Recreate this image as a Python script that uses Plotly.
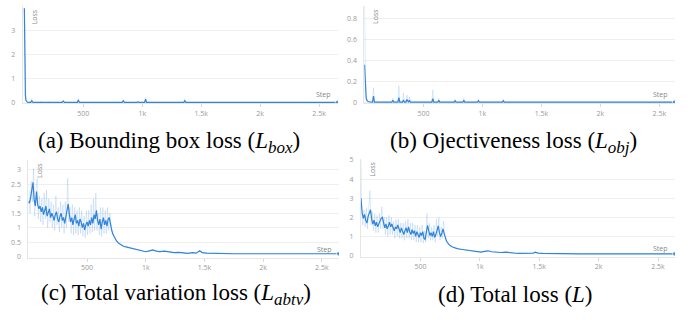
import plotly.graph_objects as go

# ---------------- data ----------------
x_tickvals = [500, 1000, 1500, 2000, 2500]
x_ticktext = ["500", "1k", "1.5k", "2k", "2.5k"]

# (a) bounding box loss
a_steps = [0, 2, 4, 6, 9, 13, 18, 25, 40, 55, 63, 70, 80, 130, 139, 148, 200, 205, 215, 320,
           330, 340, 450, 458, 466, 600, 830, 839, 848, 955, 963, 971, 1020, 1028, 1036, 1353,
           1361, 1369, 1600, 2000, 2658]
a_smooth = [3.9, 2.6, 1.4, 0.7, 0.3, 0.1, 0.03, 0.01, 0.005, 0.005, 0.08, 0.01, 0.004, 0.004,
            0.03, 0.004, 0.004, 0.02, 0.004, 0.004, 0.06, 0.004, 0.004, 0.1, 0.004, 0.003, 0.003,
            0.07, 0.003, 0.003, 0.03, 0.003, 0.003, 0.14, 0.003, 0.003, 0.07, 0.003, 0.002, 0.002,
            0.002]
a_raw = [3.9, 2.8, 1.6, 0.8, 0.35, 0.12, 0.04, 0.01, 0.005, 0.005, 0.16, 0.01, 0.004, 0.004,
         0.05, 0.004, 0.004, 0.04, 0.004, 0.004, 0.1, 0.004, 0.004, 0.16, 0.004, 0.003, 0.003,
         0.12, 0.003, 0.003, 0.05, 0.003, 0.003, 0.2, 0.003, 0.003, 0.12, 0.003, 0.002, 0.002,
         0.002]

# (b) objectiveness loss
b_steps = [0, 2, 4, 7, 10, 14, 20, 30, 50, 68, 76, 84, 232, 240, 248, 283, 291, 299, 322, 330,
           338, 351, 359, 367, 373, 381, 389, 571, 579, 587, 622, 630, 638, 760, 768, 776, 834,
           842, 850, 958, 966, 974, 1169, 1177, 1185, 1400, 2000, 2633]
b_smooth = [0.36, 0.3, 0.22, 0.14, 0.08, 0.04, 0.02, 0.008, 0.004, 0.003,
            0.06, 0.003, 0.002, 0.02, 0.002, 0.002, 0.045, 0.002, 0.002, 0.022,
            0.002, 0.002, 0.028, 0.002, 0.002, 0.02, 0.002, 0.002, 0.035, 0.002,
            0.002, 0.02, 0.002, 0.002, 0.015, 0.002, 0.002, 0.02, 0.002, 0.002,
            0.015, 0.002, 0.002, 0.015, 0.002, 0.002, 0.002, 0.002]
b_raw = [0.92, 0.6, 0.35, 0.2, 0.1, 0.05, 0.025, 0.01, 0.005, 0.003,
         0.14, 0.003, 0.002, 0.04, 0.002, 0.002, 0.16, 0.002, 0.002, 0.09,
         0.002, 0.002, 0.07, 0.002, 0.002, 0.05, 0.002, 0.002, 0.12, 0.002,
         0.002, 0.04, 0.002, 0.002, 0.03, 0.002, 0.002, 0.04, 0.002, 0.002,
         0.03, 0.002, 0.002, 0.03, 0.002, 0.002, 0.002, 0.002]

# (c) total variation loss
c_head_steps = list(range(0, 701, 10))
c_head_smooth = [1.90, 1.85, 2.05, 2.35, 2.57, 1.95, 1.75, 2.25, 1.80, 1.65, 1.75,
                 1.55, 1.70, 1.45, 1.60, 1.75, 1.40, 1.55, 1.65, 1.35, 1.50,
                 1.40, 1.25, 1.45, 1.55, 1.30, 1.20, 1.40, 1.50, 1.25, 1.35,
                 1.15, 1.40, 1.55, 1.82, 1.45, 1.20, 1.35, 1.10, 1.30, 1.45,
                 1.15, 1.25, 1.05, 1.30, 1.20, 1.00, 1.15, 0.92, 1.10, 1.20,
                 1.05, 1.25, 1.10, 1.35, 1.15, 1.45, 1.30, 1.60, 1.25, 1.10,
                 1.30, 0.95, 1.20, 1.35, 1.10, 1.25, 1.05, 1.30, 1.35, 1.10]
c_raw_steps = list(range(5, 700, 10))
c_raw_head = [2.3, 1.5, 2.6, 1.9, 3.05, 1.4, 2.2, 2.7, 1.3, 2.1,
              1.2, 2.0, 1.1, 2.2, 1.3, 2.3, 1.0, 2.0, 1.2, 1.9,
              1.0, 1.8, 0.9, 2.1, 1.1, 1.7, 0.85, 1.9, 1.0, 1.8,
              0.8, 1.9, 1.0, 2.7, 1.2, 1.7, 0.8, 1.8, 0.75, 1.7,
              0.8, 1.6, 0.75, 1.7, 0.8, 1.6, 0.7, 1.4, 0.65, 1.6,
              0.75, 1.6, 0.8, 1.8, 0.85, 2.0, 0.9, 2.2, 0.9, 1.5,
              0.75, 1.7, 0.7, 1.7, 0.8, 1.6, 0.8, 1.7, 0.9, 1.5]
c_tail_steps = [710, 720, 735, 750, 770, 790, 810, 840, 870, 900, 930, 960, 1000, 1030, 1060,
                1090, 1120, 1160, 1200, 1240, 1280, 1320, 1360, 1400, 1430, 1460, 1480, 1520,
                1580, 1650, 1750, 1900, 2100, 2300, 2500, 2646]
c_tail = [0.92, 0.78, 0.66, 0.55, 0.46, 0.40, 0.36, 0.33, 0.30, 0.28, 0.25, 0.22, 0.17, 0.20,
          0.23, 0.19, 0.17, 0.19, 0.16, 0.14, 0.15, 0.12, 0.11, 0.14, 0.12, 0.20, 0.14, 0.12,
          0.11, 0.10, 0.10, 0.10, 0.10, 0.10, 0.10, 0.10]

# (d) total loss
d_head_steps = list(range(0, 701, 10))
d_head_smooth = [3.00, 2.20, 1.95, 2.15, 1.85, 1.70, 2.05, 2.20, 2.40, 1.90, 1.65,
                 1.85, 1.55, 1.75, 1.50, 1.65, 1.85, 1.95, 2.00, 1.60, 1.45,
                 1.65, 1.40, 1.55, 1.75, 1.50, 1.65, 1.45, 1.30, 1.50, 1.40,
                 1.60, 1.35, 1.20, 1.45, 1.30, 1.10, 1.30, 1.45, 1.20, 1.50,
                 1.25, 1.10, 1.35, 1.15, 1.30, 1.00, 1.25, 1.10, 0.95, 1.20,
                 1.05, 1.25, 0.90, 0.85, 1.20, 1.58, 1.30, 1.05, 1.20, 1.00,
                 1.25, 0.95, 1.10, 1.35, 1.55, 1.20, 1.00, 1.15, 1.40, 1.15]
d_raw_steps = [0] + list(range(5, 700, 10))
d_raw_head = [5.0,
              2.6, 1.6, 2.4, 1.5, 2.5, 1.4, 2.6, 3.4, 1.6, 2.3,
              1.3, 2.2, 1.2, 2.1, 1.2, 2.2, 1.4, 2.55, 1.4, 2.0,
              1.1, 2.0, 1.0, 2.1, 1.1, 2.0, 1.1, 1.8, 0.9, 1.9,
              1.0, 1.9, 0.9, 1.7, 0.9, 1.7, 0.8, 1.8, 0.9, 1.9,
              0.9, 1.7, 0.8, 1.7, 0.8, 1.6, 0.7, 1.6, 0.7, 1.5,
              0.7, 1.6, 0.65, 1.3, 0.7, 2.2, 0.9, 1.7, 0.8, 1.5,
              0.8, 1.6, 0.7, 1.9, 1.0, 2.0, 0.8, 1.5, 0.9, 1.8]
d_tail_steps = [710, 720, 735, 750, 770, 790, 810, 840, 870, 900, 940, 980, 1010, 1040, 1070,
                1100, 1140, 1180, 1220, 1260, 1300, 1340, 1380, 1420, 1450, 1465, 1490, 1530,
                1600, 1700, 1850, 2000, 2200, 2400, 2643]
d_tail = [0.90, 0.75, 0.62, 0.52, 0.45, 0.40, 0.36, 0.33, 0.30, 0.27, 0.23, 0.19, 0.18, 0.22,
          0.25, 0.20, 0.17, 0.16, 0.18, 0.14, 0.12, 0.11, 0.12, 0.13, 0.12, 0.18, 0.13, 0.11,
          0.10, 0.09, 0.09, 0.09, 0.09, 0.09, 0.09]

y_ticks_a = [0, 1, 2, 3]
y_ticks_b = [0, 0.2, 0.4, 0.6, 0.8]
y_ticks_c = [0, 0.5, 1, 1.5, 2, 2.5, 3]
y_ticks_d = [0, 1, 2, 3, 4, 5]

SUB = '<sub><span style="font-size:17px"><i>%s</i></span></sub>'
captions = [
    "(a) Bounding box loss (<i>L</i>" + SUB % "box" + ")",
    "(b) Ojectiveness loss (<i>L</i>" + SUB % "obj" + ")",
    "(c) Total variation loss (<i>L</i>" + SUB % "abtv" + ")",
    "(d) Total loss (<i>L</i>)",
]

# ---------------- figure ----------------
W, H = 699, 320
DARK = "rgb(48,132,218)"
FAINT = "rgba(48,132,218,0.16)"
GRID = "#efefef"
TICKC = "#9a9a9a"


def px_x(p):
    return p / W


def px_y(p):
    return 1 - p / H


panels = [
    dict(x=(22.7, 338), y=(102, 2), xr=[-14, 2660], yr=[-0.04, 4.0], yt=y_ticks_a,
         smooth=(a_steps, a_smooth), raw=(a_steps, a_raw)),
    dict(x=(364.3, 675), y=(102, 2), xr=[-2, 2633], yr=[-0.01, 0.921], yt=y_ticks_b,
         smooth=(b_steps, b_smooth), raw=(b_steps, b_raw)),
    dict(x=(28.3, 339), y=(260, 160), xr=[0, 2646], yr=[-0.03, 3.34], yt=y_ticks_c,
         smooth=(c_head_steps + c_tail_steps, c_head_smooth + c_tail),
         raw=(c_raw_steps + c_tail_steps, c_raw_head + c_tail)),
    dict(x=(361, 675), y=(259, 159), xr=[0, 2643], yr=[-0.05, 5.05], yt=y_ticks_d,
         smooth=(d_head_steps + d_tail_steps, d_head_smooth + d_tail),
         raw=(d_raw_steps + d_tail_steps, d_raw_head + d_tail)),
]

fig = go.Figure()
layout = dict(
    width=W, height=H, margin=dict(l=0, r=0, t=0, b=0),
    paper_bgcolor="white", plot_bgcolor="white", showlegend=False,
    annotations=[],
)

for i, p in enumerate(panels):
    n = "" if i == 0 else str(i + 1)
    xa, ya = "x" + n, "y" + n
    rx, ry = p["raw"]
    sx, sy = p["smooth"]
    fig.add_trace(go.Scatter(x=rx, y=ry, mode="lines", xaxis=xa, yaxis=ya,
                             line=dict(color=FAINT, width=1), hoverinfo="skip"))
    sizes = [0] * (len(sx) - 1) + [5]
    fig.add_trace(go.Scatter(x=sx, y=sy, mode="lines+markers", xaxis=xa, yaxis=ya,
                             line=dict(color=DARK, width=1.2),
                             marker=dict(size=sizes, color=DARK)))
    yt = p["yt"]
    layout["xaxis" + n] = dict(
        domain=[px_x(p["x"][0]), px_x(p["x"][1])], range=p["xr"], anchor=ya,
        tickvals=x_tickvals, ticktext=x_ticktext, showgrid=False, zeroline=False,
        showline=True, linecolor="#e6e6e6", linewidth=1,
        ticks="outside", ticklen=3, tickcolor="#d8d8d8",
        tickfont=dict(family="Open Sans", size=7, color=TICKC),
    )
    layout["yaxis" + n] = dict(
        domain=[px_y(p["y"][0]), px_y(p["y"][1])], range=p["yr"], anchor=xa,
        tickvals=yt, ticktext=[str(v) for v in yt], showgrid=True, gridcolor=GRID,
        zeroline=False, showline=True, linecolor="#e6e6e6", linewidth=1,
        ticks="", ticklabelstandoff=5,
        tickfont=dict(family="Open Sans", size=7, color=TICKC),
    )
    layout["annotations"].append(dict(
        text="Loss", xref=xa + " domain", yref=ya + " domain", x=0.015, y=0.99,
        xanchor="left", yanchor="top", textangle=-90, showarrow=False,
        font=dict(family="Open Sans", size=7, color="#888")))
    layout["annotations"].append(dict(
        text="Step", xref=xa + " domain", yref=ya + " domain", x=0.985, y=0.02,
        xanchor="right", yanchor="bottom", showarrow=False,
        font=dict(family="Open Sans", size=7, color="#888")))

cap_pos = [(168.5, 142), (513.5, 142), (176, 298), (515, 298)]
for txt, (cx, cy) in zip(captions, cap_pos):
    layout["annotations"].append(dict(
        text=txt, xref="paper", yref="paper", x=px_x(cx), y=px_y(cy),
        xanchor="center", yanchor="middle", showarrow=False,
        font=dict(family="Liberation Serif", size=23, color="black")))

fig.update_layout(**layout)
fig.write_html("out.html")
